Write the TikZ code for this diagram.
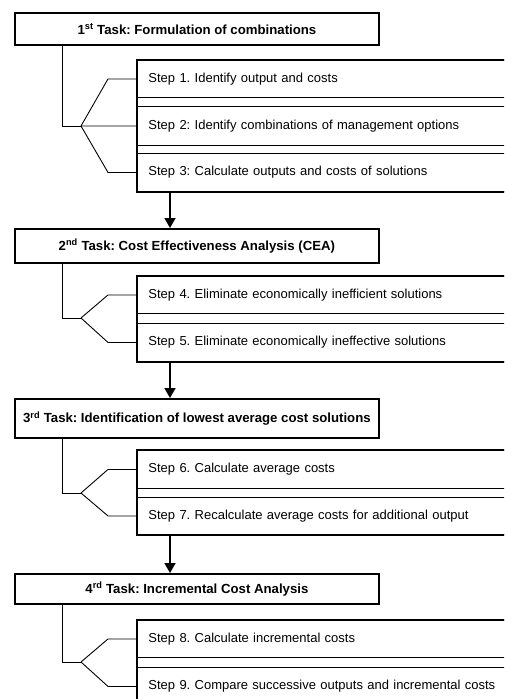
\documentclass[tikz,border=0pt]{standalone}
\usepackage{fontspec}
\setmainfont{Liberation Sans}
\usetikzlibrary{arrows.meta}
\frenchspacing
\tikzstyle{task box}=[
    draw,
    line width = 1.8pt,
    minimum width = 364pt,
    anchor = north west,
    inner sep = 0pt,
    font = \bfseries\fontsize{13.2}{15}\selectfont
]
\tikzstyle{step box}=[
    draw,
    line width = 0.9pt,
    anchor = north west,
    text width = 372pt,
    align = left,
    inner xsep = 11pt,
    inner ysep = 0pt,
    font = \fontsize{13}{15}\selectfont
]

\begin{document}
\begin{tikzpicture}[x=1pt, y=-1pt, branch/.style = {line width=0.9pt}, frame/.style = {line width=1.8pt}, flow/.style = {line width=1.8pt, -{Triangle[width=11pt,length=10pt]}}]
        \clip (0,0) rectangle (504,699);
        \fill[white] (0,0) rectangle (504,699);

        % 1st task
        \node[task box, minimum height=32pt] (t1) at (14,12) {1\textsuperscript{st} Task: Formulation of combinations};
        \node[step box, minimum height=37pt] (s1) at (137,60) {Step 1. Identify output and costs};
        \node[step box, minimum height=39pt] (s2) at (137,106) {Step 2: Identify combinations of management options};
        \node[step box, minimum height=38pt] (s3) at (137,153) {Step 3: Calculate outputs and costs of solutions};
        \draw[frame] (s1.north west) rectangle (s3.south east);
        \coordinate (j1) at (81,126);
        \draw[branch] ([xshift=48pt]t1.south west) |- (j1);
        \draw[branch] (j1) -- ([xshift=-29pt]s1.west) -- (s1.west);
        \draw[branch] (j1) -- (s2.west);
        \draw[branch] (j1) -- ([xshift=-29pt]s3.west) -- (s3.west);

        % 2nd task
        \node[task box, minimum height=34pt] (t2) at (14,228) {2\textsuperscript{nd} Task: Cost Effectiveness Analysis (CEA)};
        \node[step box, minimum height=37pt] (s4) at (137,276) {Step 4. Eliminate economically inefficient solutions};
        \node[step box, minimum height=38pt] (s5) at (137,323) {Step 5. Eliminate economically ineffective solutions};
        \draw[frame] (s4.north west) rectangle (s5.south east);
        \coordinate (j2) at (81,318);
        \draw[branch] ([xshift=48pt]t2.south west) |- (j2);
        \draw[branch] (j2) -- ([xshift=-29pt]s4.west) -- (s4.west);
        \draw[branch] (j2) -- ([xshift=-29pt]s5.west) -- (s5.west);
        \draw[flow] ([xshift=33pt]s3.south west) -- ([xshift=156pt]t2.north west);

        % 3rd task
        \node[task box, minimum height=39pt] (t3) at (14,398) {3\textsuperscript{rd} Task: Identification of lowest average cost solutions};
        \node[step box, minimum height=38pt] (s6) at (137,450) {Step 6. Calculate average costs};
        \node[step box, minimum height=37pt] (s7) at (137,497) {Step 7. Recalculate average costs for additional output};
        \draw[frame] (s6.north west) rectangle (s7.south east);
        \coordinate (j3) at (81,493);
        \draw[branch] ([xshift=48pt]t3.south west) |- (j3);
        \draw[branch] (j3) -- ([xshift=-29pt]s6.west) -- (s6.west);
        \draw[branch] (j3) -- ([xshift=-29pt]s7.west) -- (s7.west);
        \draw[flow] ([xshift=33pt]s5.south west) -- ([xshift=156pt]t3.north west);

        % 4th task
        \node[task box, minimum height=30pt] (t4) at (14,573) {4\textsuperscript{rd} Task: Incremental Cost Analysis};
        \node[step box, minimum height=37pt] (s8) at (137,620) {Step 8. Calculate incremental costs};
        \node[step box, minimum height=38pt] (s9) at (137,667) {Step 9. Compare successive outputs and incremental costs};
        \draw[frame] (s8.north west) rectangle (s9.south east);
        \coordinate (j4) at (81,662);
        \draw[branch] ([xshift=48pt]t4.south west) |- (j4);
        \draw[branch] (j4) -- ([xshift=-29pt]s8.west) -- (s8.west);
        \draw[branch] (j4) -- ([xshift=-29pt]s9.west) -- (s9.west);
        \draw[flow] ([xshift=33pt]s7.south west) -- ([xshift=156pt]t4.north west);

    \end{tikzpicture}
\end{document}
